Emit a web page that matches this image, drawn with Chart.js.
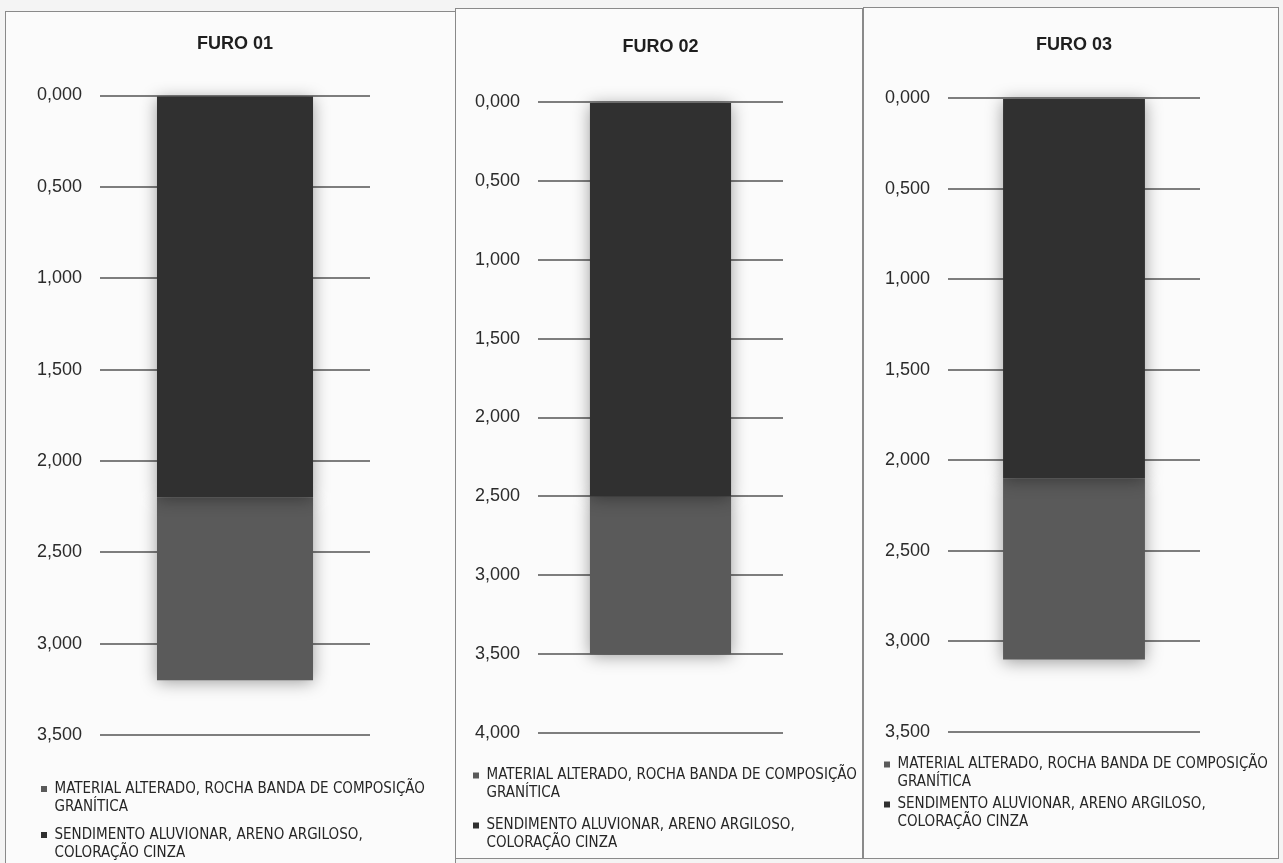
<!DOCTYPE html>
<html>
<head>
<meta charset="utf-8">
<script src="https://cdn.jsdelivr.net/npm/chart.js@4.4.1/dist/chart.umd.min.js"></script>
<style>
  html, body { margin: 0; padding: 0; width: 1283px; height: 863px; overflow: hidden; background: #f4f4f4; }
  .panel { position: absolute; box-sizing: border-box; border: 1.5px solid #8a8a8a; background: #fbfbfb; }
  canvas { position: absolute; }
</style>
</head>
<body>
<div class="panel" style="left:5px;top:11px;width:451px;height:880px"></div>
<div class="panel" style="left:455px;top:8px;width:408px;height:851px"></div>
<div class="panel" style="left:863px;top:7px;width:416px;height:852px"></div>
<canvas id="c0"></canvas>
<canvas id="c1"></canvas>
<canvas id="c2"></canvas>
<script>
// ---- data ----
const holes = ['FURO 01', 'FURO 02', 'FURO 03'];
const sedimentThickness = [2.2, 2.5, 2.1];   // SENDIMENTO ALUVIONAR (top layer)
const alteredThickness  = [1.0, 1.0, 1.0];   // MATERIAL ALTERADO (lower layer)
const axisMax = [3.5, 4.0, 3.5];
const tickStep = 0.5;
const seriesNames = [
  'SENDIMENTO ALUVIONAR, ARENO ARGILOSO, COLORAÇÃO CINZA',
  'MATERIAL ALTERADO, ROCHA BANDA DE COMPOSIÇÃO GRANÍTICA'
];
const legendLines = [
  ['SENDIMENTO ALUVIONAR, ARENO ARGILOSO,', 'COLORAÇÃO CINZA'],
  ['MATERIAL ALTERADO, ROCHA BANDA DE COMPOSIÇÃO', 'GRANÍTICA']
];
const seriesColors = ['#303030', '#5a5a5a'];

// ---- layout / style per panel ----
const panelLayout = [
  { left: 10,  width: 431, axisWidth: 90,  padRight: 71, titleTop: 33.2, titleBottom: 40.7, gap: 15.5, legendPad: 31, padBottom: 10.5, barPct: 0.578 },
  { left: 438, width: 424, axisWidth: 100, padRight: 79, titleTop: 36.2, titleBottom: 44.2, gap: 0,    legendPad: 35, padBottom: 20,   barPct: 0.576 },
  { left: 859, width: 419, axisWidth: 89,  padRight: 78, titleTop: 34.2, titleBottom: 42.2, gap: 0,    legendPad: 25, padBottom: 41,   barPct: 0.563 }
];
const canvasHeight = 863;
const sansFamily = "'Liberation Sans', Arial, sans-serif";
const narrowFamily = "'Liberation Sans Narrow', 'Arial Narrow', 'DejaVu Sans Condensed', 'Liberation Sans', sans-serif";

const shadowPlugin = {
  id: 'barShadow',
  beforeDatasetsDraw(chart) {
    const c = chart.ctx;
    c.save();
    c.shadowColor = 'rgba(0,0,0,0.38)';
    c.shadowBlur = 16;
    c.shadowOffsetX = 0;
    c.shadowOffsetY = 2;
  },
  afterDatasetsDraw(chart) { chart.ctx.restore(); }
};

// let the legend text run past the plot's right edge without being clipped
const legendRoomPlugin = {
  id: 'legendRoom',
  afterLayout(chart) {
    const lg = chart.legend;
    if (!lg) return;
    lg.right = chart.width;
    lg.width = lg.right - lg.left;
    lg.bottom = chart.height;
    lg.height = lg.bottom - lg.top;
  }
};

holes.forEach((hole, i) => {
  const L = panelLayout[i];
  const cv = document.getElementById('c' + i);
  cv.width = L.width; cv.height = canvasHeight;
  cv.style.left = L.left + 'px'; cv.style.top = '0px';
  cv.style.width = L.width + 'px'; cv.style.height = canvasHeight + 'px';

  new Chart(cv.getContext('2d'), {
    type: 'bar',
    data: {
      labels: [hole],
      datasets: [
        { label: seriesNames[0], data: [sedimentThickness[i]], backgroundColor: seriesColors[0], borderWidth: 0,
          barPercentage: L.barPct, categoryPercentage: 1, clip: false },
        { label: seriesNames[1], data: [alteredThickness[i]], backgroundColor: seriesColors[1], borderWidth: 0,
          barPercentage: L.barPct, categoryPercentage: 1, clip: false }
      ]
    },
    plugins: [shadowPlugin, legendRoomPlugin],
    options: {
      responsive: false,
      animation: false,
      devicePixelRatio: 1,
      layout: { padding: { left: 0, top: 0, right: L.padRight, bottom: L.padBottom } },
      scales: {
        x: {
          stacked: true,
          display: true,
          grid: { display: false },
          border: { display: false },
          ticks: { display: false },
          afterFit: (s) => { s.height = L.gap; }
        },
        y: {
          stacked: true,
          reverse: true,
          min: 0,
          max: axisMax[i],
          border: { display: false },
          grid: { color: '#7e7e7e', lineWidth: 2, drawTicks: false },
          ticks: {
            stepSize: tickStep,
            padding: 18,
            color: '#2b2b2b',
            font: { family: sansFamily, size: 18 },
            callback: (v) => Number(v).toFixed(3).replace('.', ',')
          },
          afterFit: (s) => { s.width = L.axisWidth; }
        }
      },
      plugins: {
        title: {
          display: true,
          text: hole,
          fullSize: false,
          color: '#1e1e1e',
          font: { family: sansFamily, size: 18, weight: 'bold', lineHeight: 1.2 },
          padding: { top: L.titleTop, bottom: L.titleBottom }
        },
        legend: {
          display: true,
          position: 'bottom',
          align: 'start',
          reverse: true,
          labels: {
            boxWidth: 6,
            boxHeight: 6,
            padding: L.legendPad,
            color: '#262626',
            font: { family: narrowFamily, size: 15, lineHeight: 1.18 },
            generateLabels: (chart) => Chart.defaults.plugins.legend.labels.generateLabels(chart)
              .map((it) => Object.assign(it, { text: legendLines[it.datasetIndex] }))
          }
        },
        tooltip: { enabled: false }
      }
    }
  });
});
</script>
</body>
</html>
